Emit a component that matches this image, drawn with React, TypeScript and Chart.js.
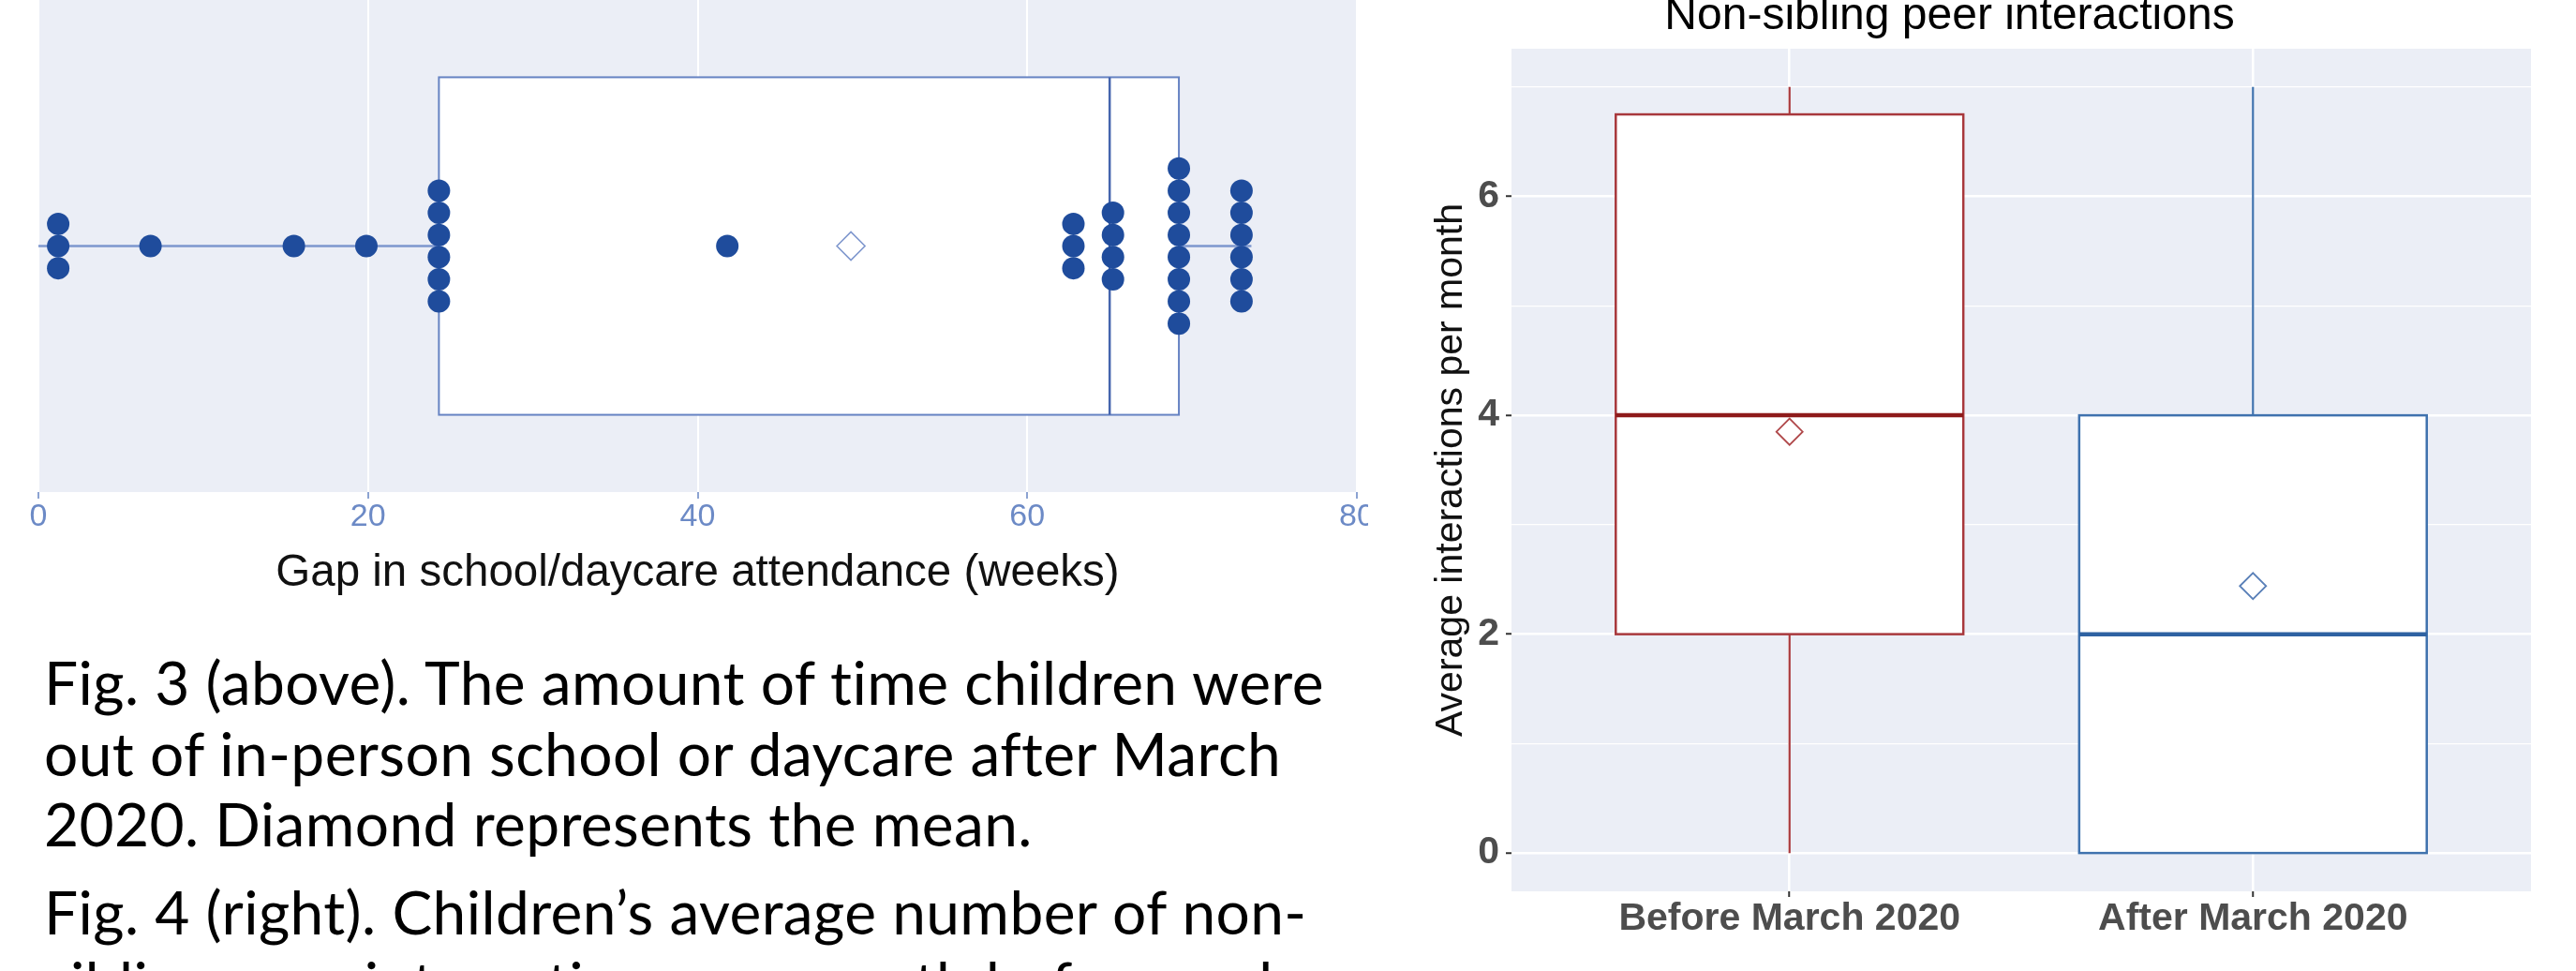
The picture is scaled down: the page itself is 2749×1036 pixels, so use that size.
import React, { useEffect, useRef } from 'react';
import { Chart, registerables } from 'chart.js';

Chart.register(...registerables);

// ---------- Fig. 3: gap in school/daycare attendance (weeks) ----------
const gapWeeks: number[] = [
  1.2, 1.2, 1.2,
  6.8,
  15.5,
  19.9,
  24.3, 24.3, 24.3, 24.3, 24.3, 24.3,
  41.8,
  62.8, 62.8, 62.8,
  65.2, 65.2, 65.2, 65.2,
  69.2, 69.2, 69.2, 69.2, 69.2, 69.2, 69.2, 69.2,
  73.0, 73.0, 73.0, 73.0, 73.0, 73.0,
];
// [whisker low, Q1, median, Q3, whisker high]
const gapBoxStats: number[] = [0, 24.3, 65.0, 69.2, 73.6];
const gapMean = 49.3;
const gapTicks: number[] = [0, 20, 40, 60, 80];
const gapAxisTitle = 'Gap in school/daycare attendance (weeks)';

// ---------- Fig. 4: non-sibling peer interactions ----------
const peerCategories: string[] = ['Before March 2020', 'After March 2020'];
const peerWhiskerLow: number[] = [0, 0];
const peerQ1: number[] = [2, 0];
const peerMedian: number[] = [4, 2];
const peerQ3: number[] = [6.75, 4];
const peerWhiskerHigh: number[] = [7, 7];
const peerMean: number[] = [3.85, 2.44];
const peerTicks: number[] = [0, 1, 2, 3, 4, 5, 6, 7];
const peerTitle = 'Non-sibling peer interactions';
const peerAxisTitle = 'Average interactions per month';

const captionPara1: string[] = [
  'Fig. 3 (above). The amount of time children were',
  'out of in-person school or daycare after March',
  '2020. Diamond represents the mean.',
];
const captionPara2: string[] = [
  'Fig. 4 (right). Children\u2019s average number of non-',
  'sibling peer interactions per month before and',
];

// ---------- styles ----------
const PANEL_BG = '#EBEEF6';
const AXIS_FONT = 'Liberation Sans, Arial, sans-serif';
const peerColors = ['#A8383C', '#3F72AE'];
const peerMedianColors = ['#8E1B1B', '#2E62A2'];
const peerMeanColors = ['#B0494B', '#5A80B8'];
const PEER_BOX_WIDTH = 0.75;
const GAP_BOX_HALF = 0.343;
const GAP_STACK_STEP = 0.045;

const panelBg = {
  id: 'panelBg',
  beforeDraw(chart: any) {
    const { ctx, chartArea } = chart;
    ctx.save();
    ctx.fillStyle = PANEL_BG;
    ctx.fillRect(chartArea.left, chartArea.top, chartArea.right - chartArea.left, chartArea.bottom - chartArea.top);
    ctx.restore();
  },
};

const gapBoxPlugin = {
  id: 'gapBox',
  beforeDatasetsDraw(chart: any) {
    const { ctx, scales } = chart;
    const x = scales.x;
    const y = scales.y;
    const [lo, q1, med, q3, hi] = gapBoxStats;
    const cy = y.getPixelForValue(0);
    const top = y.getPixelForValue(GAP_BOX_HALF);
    const bottom = y.getPixelForValue(-GAP_BOX_HALF);
    ctx.save();
    ctx.strokeStyle = '#7D97CE';
    ctx.lineWidth = 2.5;
    ctx.beginPath();
    ctx.moveTo(x.getPixelForValue(lo), cy);
    ctx.lineTo(x.getPixelForValue(q1), cy);
    ctx.moveTo(x.getPixelForValue(q3), cy);
    ctx.lineTo(x.getPixelForValue(hi), cy);
    ctx.stroke();
    const left = x.getPixelForValue(q1);
    const right = x.getPixelForValue(q3);
    ctx.fillStyle = '#FFFFFF';
    ctx.fillRect(left, top, right - left, bottom - top);
    ctx.strokeStyle = '#6683C3';
    ctx.lineWidth = 2;
    ctx.strokeRect(left, top, right - left, bottom - top);
    ctx.strokeStyle = '#4565AD';
    ctx.lineWidth = 2.5;
    ctx.beginPath();
    ctx.moveTo(x.getPixelForValue(med), top);
    ctx.lineTo(x.getPixelForValue(med), bottom);
    ctx.stroke();
    ctx.restore();
  },
};

const peerBoxPlugin = {
  id: 'peerBox',
  beforeDatasetsDraw(chart: any) {
    const { ctx, scales } = chart;
    const x = scales.x;
    const y = scales.y;
    peerCategories.forEach((_, i) => {
      const cx = x.getPixelForValue(i + 1);
      const half = x.getPixelForValue(i + 1 + PEER_BOX_WIDTH / 2) - cx;
      const top = y.getPixelForValue(peerQ3[i]);
      const bottom = y.getPixelForValue(peerQ1[i]);
      ctx.save();
      ctx.strokeStyle = peerColors[i];
      ctx.lineWidth = 2.2;
      ctx.beginPath();
      ctx.moveTo(cx, y.getPixelForValue(peerWhiskerHigh[i]));
      ctx.lineTo(cx, top);
      if (peerWhiskerLow[i] < peerQ1[i]) {
        ctx.moveTo(cx, bottom);
        ctx.lineTo(cx, y.getPixelForValue(peerWhiskerLow[i]));
      }
      ctx.stroke();
      ctx.fillStyle = '#FFFFFF';
      ctx.fillRect(cx - half, top, 2 * half, bottom - top);
      ctx.lineWidth = 2.5;
      ctx.strokeRect(cx - half, top, 2 * half, bottom - top);
      const my = y.getPixelForValue(peerMedian[i]);
      ctx.strokeStyle = peerMedianColors[i];
      ctx.lineWidth = 4.5;
      ctx.beginPath();
      ctx.moveTo(cx - half, my);
      ctx.lineTo(cx + half, my);
      ctx.stroke();
      ctx.restore();
    });
  },
};

function buildDots() {
  const counts = new Map<number, number>();
  gapWeeks.forEach((v) => counts.set(v, (counts.get(v) || 0) + 1));
  const seen = new Map<number, number>();
  return gapWeeks.map((v) => {
    const n = counts.get(v) || 1;
    const i = seen.get(v) || 0;
    seen.set(v, i + 1);
    return { x: v, y: (i - (n - 1) / 2) * GAP_STACK_STEP };
  });
}

export default function App() {
  const leftRef = useRef<HTMLCanvasElement | null>(null);
  const rightRef = useRef<HTMLCanvasElement | null>(null);

  useEffect(() => {
    const left = new Chart(leftRef.current as HTMLCanvasElement, {
      type: 'scatter',
      data: {
        datasets: [
          {
            data: buildDots(),
            pointRadius: 12,
            pointHoverRadius: 12,
            pointBackgroundColor: '#1F4C9C',
            pointBorderWidth: 0,
          },
          {
            data: [{ x: gapMean, y: 0 }],
            pointStyle: 'rectRot',
            pointRadius: 15,
            pointHoverRadius: 15,
            pointBorderColor: '#8098CE',
            pointBackgroundColor: 'rgba(0,0,0,0)',
            pointBorderWidth: 1.6,
          },
        ],
      },
      options: {
        responsive: false,
        animation: false,
        events: [],
        layout: { autoPadding: false, padding: { left: 41, right: 42, top: 0, bottom: 0 } },
        plugins: { legend: { display: false }, tooltip: { enabled: false } },
        scales: {
          x: {
            type: 'linear',
            min: 0,
            max: 80,
            afterBuildTicks: (s: any) => {
              s.ticks = gapTicks.map((v) => ({ value: v }));
            },
            afterFit: (s: any) => {
              s.height = 135;
            },
            grid: { color: '#FFFFFF', lineWidth: 2, drawTicks: true, tickLength: 7, tickColor: '#8CA3D2', tickWidth: 2 },
            border: { display: false },
            ticks: {
              color: '#6C8AC6',
              font: { family: AXIS_FONT, size: 34, lineHeight: 1 },
              padding: 2.5,
              maxRotation: 0,
              autoSkip: false,
            },
            title: {
              display: true,
              text: gapAxisTitle,
              color: '#111111',
              font: { family: AXIS_FONT, size: 47.5, lineHeight: 1 },
              padding: { top: 0, bottom: 24 },
            },
          },
          y: { type: 'linear', min: -0.5, max: 0.5, display: false },
        },
      },
      plugins: [panelBg, gapBoxPlugin],
    } as any);

    const right = new Chart(rightRef.current as HTMLCanvasElement, {
      type: 'scatter',
      data: {
        datasets: [
          {
            data: peerMean.map((m, i) => ({ x: i + 1, y: m })),
            pointStyle: 'rectRot',
            pointRadius: 14,
            pointHoverRadius: 14,
            pointBorderColor: peerMeanColors,
            pointBackgroundColor: 'rgba(0,0,0,0)',
            pointBorderWidth: 1.8,
          },
        ],
      },
      options: {
        responsive: false,
        animation: false,
        events: [],
        layout: { autoPadding: false, padding: { left: 0, right: 48, top: 0, bottom: 0 } },
        plugins: {
          legend: { display: false },
          tooltip: { enabled: false },
          title: {
            display: true,
            text: peerTitle,
            color: '#000000',
            font: { family: AXIS_FONT, size: 48, weight: 'normal', lineHeight: 0.75 },
            padding: { top: 0, bottom: 16 },
          },
        },
        scales: {
          x: {
            type: 'linear',
            min: 0.4,
            max: 2.6,
            afterBuildTicks: (s: any) => {
              s.ticks = peerCategories.map((_, i) => ({ value: i + 1 }));
            },
            afterFit: (s: any) => {
              s.height = 85;
            },
            grid: { color: '#FFFFFF', lineWidth: 2.5, drawTicks: true, tickLength: 6, tickColor: '#333333', tickWidth: 2 },
            border: { display: false },
            ticks: {
              callback: (v: any) => peerCategories[Math.round(Number(v)) - 1] ?? '',
              color: '#4D4D4D',
              font: { family: AXIS_FONT, size: 41, weight: 'bold', lineHeight: 1 },
              padding: 3,
              maxRotation: 0,
              autoSkip: false,
            },
          },
          y: {
            type: 'linear',
            min: -0.35,
            max: 7.35,
            afterBuildTicks: (s: any) => {
              s.ticks = peerTicks.map((v) => ({ value: v }));
            },
            afterFit: (s: any) => {
              s.width = 153;
            },
            grid: {
              color: '#FFFFFF',
              lineWidth: (c: any) => (c.tick && c.tick.value % 2 === 0 ? 2.5 : 1.2),
              drawTicks: true,
              tickLength: 6,
              tickWidth: 2,
              tickColor: (c: any) => (c.tick && c.tick.value % 2 === 0 ? '#333333' : 'rgba(0,0,0,0)'),
            },
            border: { display: false },
            ticks: {
              callback: (v: any) => (Number(v) % 2 === 0 ? String(v) : ''),
              color: '#4D4D4D',
              font: { family: AXIS_FONT, size: 41, weight: 'bold', lineHeight: 1 },
              padding: 7,
              autoSkip: false,
            },
            title: {
              display: true,
              text: peerAxisTitle,
              color: '#111111',
              font: { family: AXIS_FONT, size: 41, lineHeight: 1 },
              padding: { top: 68, bottom: 0 },
            },
          },
        },
      },
      plugins: [panelBg, peerBoxPlugin],
    } as any);

    return () => {
      left.destroy();
      right.destroy();
    };
  }, []);

  return (
    <div
      style={{
        position: 'absolute',
        left: 0,
        top: 0,
        width: 2749,
        height: 1036,
        overflow: 'hidden',
        background: '#FFFFFF',
      }}
    >
      <div style={{ position: 'absolute', left: 0, top: 0, width: 1460, height: 660, overflow: 'hidden' }}>
        <canvas ref={leftRef} width={1490} height={660} style={{ display: 'block' }} />
      </div>
      <canvas
        ref={rightRef}
        width={1289}
        height={1036}
        style={{ position: 'absolute', left: 1460, top: 0, display: 'block' }}
      />
      <div
        style={{
          position: 'absolute',
          left: 47,
          top: 690,
          fontFamily: 'Lato, sans-serif',
          fontSize: 64,
          letterSpacing: '0.4px',
          lineHeight: '75.5px',
          color: '#000000',
          whiteSpace: 'nowrap',
        }}
      >
        {captionPara1.map((t) => (
          <div key={t}>{t}</div>
        ))}
        <div style={{ height: 18.5 }} />
        {captionPara2.map((t) => (
          <div key={t}>{t}</div>
        ))}
      </div>
    </div>
  );
}
